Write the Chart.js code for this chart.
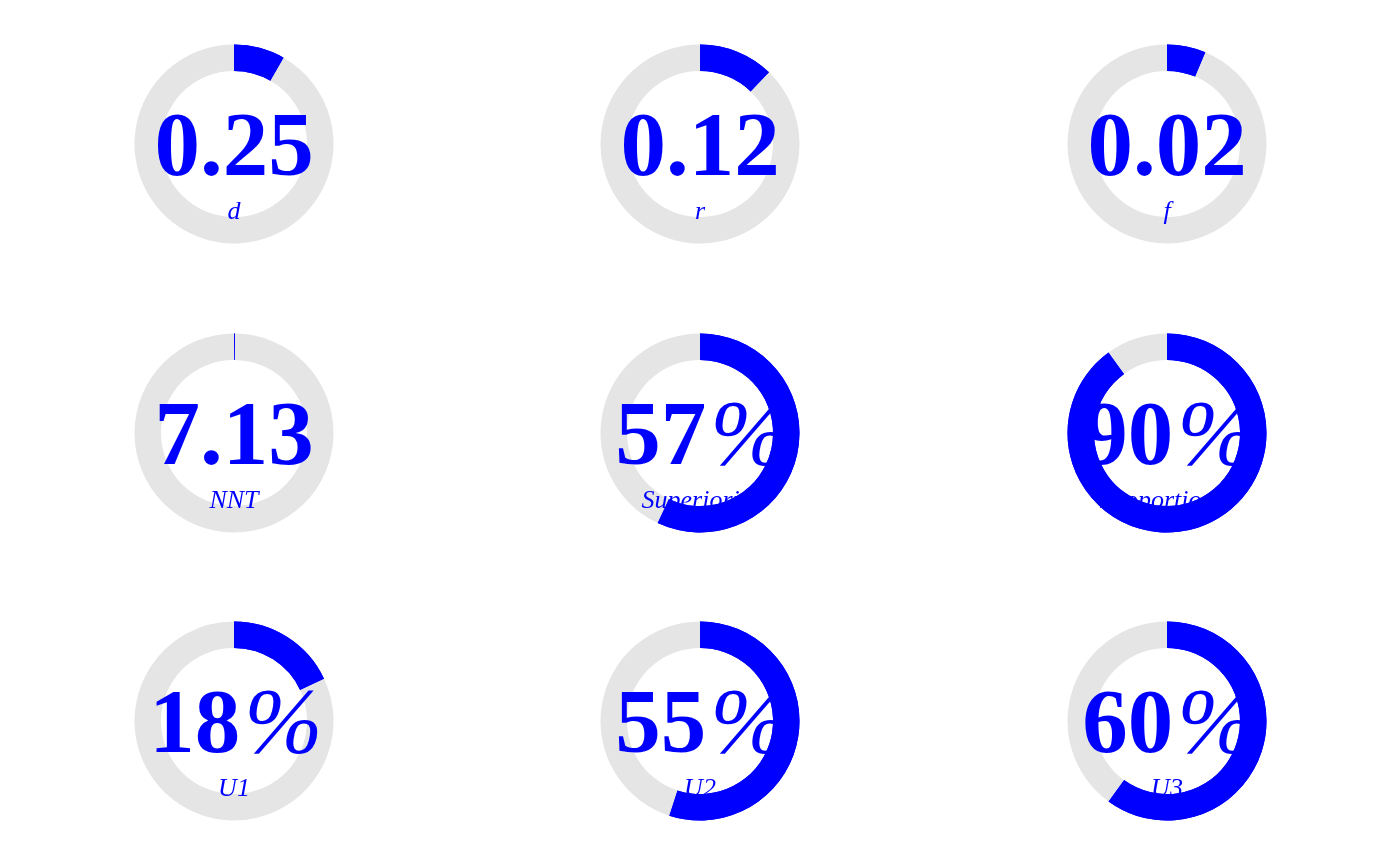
<!DOCTYPE html>
<html>
<head>
<meta charset="utf-8">
<script src="https://cdn.jsdelivr.net/npm/chart.js@4.4.0/dist/chart.umd.min.js"></script>
<style>
  html, body { margin: 0; padding: 0; background: #ffffff; }
  #wrap { position: relative; width: 1400px; height: 866px; overflow: hidden; }
  canvas { position: absolute; }
</style>
</head>
<body>
<div id="wrap"></div>
<script>
// ---- data ----
const gaugeLabels = ['d', 'r', 'f', 'NNT', 'Superiority', 'Proportion d', 'U1', 'U2', 'U3'];
const gaugeNumbers = ['0.25', '0.12', '0.02', '7.13', '57', '90', '18', '55', '60'];
const gaugeSuffix = ['', '', '', '', '%', '%', '%', '%', '%'];
const gaugeFill = [0.083, 0.122, 0.063, 0.0015, 0.57, 0.90, 0.18, 0.55, 0.60];

// ---- layout ----
const colX = [233.5, 700, 1166.5];
const rowY = [144, 433, 721];
const SIZE = 260;
const BLUE = '#0000ff';
const GREY = '#e5e5e5';

const textPlugin = {
  id: 'gaugeText',
  afterDatasetsDraw(chart) {
    const ctx = chart.ctx;
    const meta = chart.getDatasetMeta(0);
    const arc = meta.data[0];
    const cx = arc.x, cy = arc.y;
    const i = chart.options.plugins.gaugeText.index;
    ctx.save();
    ctx.fillStyle = BLUE;
    ctx.textBaseline = 'alphabetic';
    ctx.textAlign = 'left';
    const numFont = 'bold 91px "Liberation Serif", "Times New Roman", serif';
    const sufFont = 'italic 94px "Liberation Serif", "Times New Roman", serif';
    ctx.font = numFont;
    const w1 = ctx.measureText(gaugeNumbers[i]).width;
    ctx.font = sufFont;
    const w2 = gaugeSuffix[i] ? ctx.measureText(gaugeSuffix[i]).width : 0;
    const x0 = cx - (w1 + w2) / 2;
    ctx.font = numFont;
    ctx.fillText(gaugeNumbers[i], x0, cy + 31);
    if (gaugeSuffix[i]) {
      ctx.font = sufFont;
      ctx.fillText(gaugeSuffix[i], x0 + w1 + 4, cy + 31);
    }
    ctx.font = 'italic 26px "Liberation Serif", "Times New Roman", serif';
    ctx.textAlign = 'center';
    ctx.fillText(gaugeLabels[i], cx, cy + 75);
    // redraw filled (blue) arc on top of the text
    arc.draw(ctx);
    ctx.restore();
  }
};

const wrap = document.getElementById('wrap');
for (let i = 0; i < gaugeLabels.length; i++) {
  const cx = colX[i % 3];
  const cy = rowY[Math.floor(i / 3)];
  const cv = document.createElement('canvas');
  cv.width = SIZE; cv.height = SIZE;
  cv.style.width = SIZE + 'px'; cv.style.height = SIZE + 'px';
  cv.style.left = (cx - SIZE / 2) + 'px';
  cv.style.top = (cy - SIZE / 2) + 'px';
  wrap.appendChild(cv);
  new Chart(cv, {
    type: 'doughnut',
    data: {
      labels: [gaugeLabels[i], 'rest'],
      datasets: [{
        data: [gaugeFill[i], 1 - gaugeFill[i]],
        backgroundColor: [BLUE, GREY],
        borderWidth: 0,
        hoverOffset: 0
      }]
    },
    options: {
      responsive: false,
      animation: false,
      events: [],
      radius: 99.5,
      cutout: '73.4%',
      rotation: 0,
      circumference: 360,
      layout: { padding: 0 },
      plugins: {
        legend: { display: false },
        tooltip: { enabled: false },
        gaugeText: { index: i }
      }
    },
    plugins: [textPlugin]
  });
}
</script>
</body>
</html>
